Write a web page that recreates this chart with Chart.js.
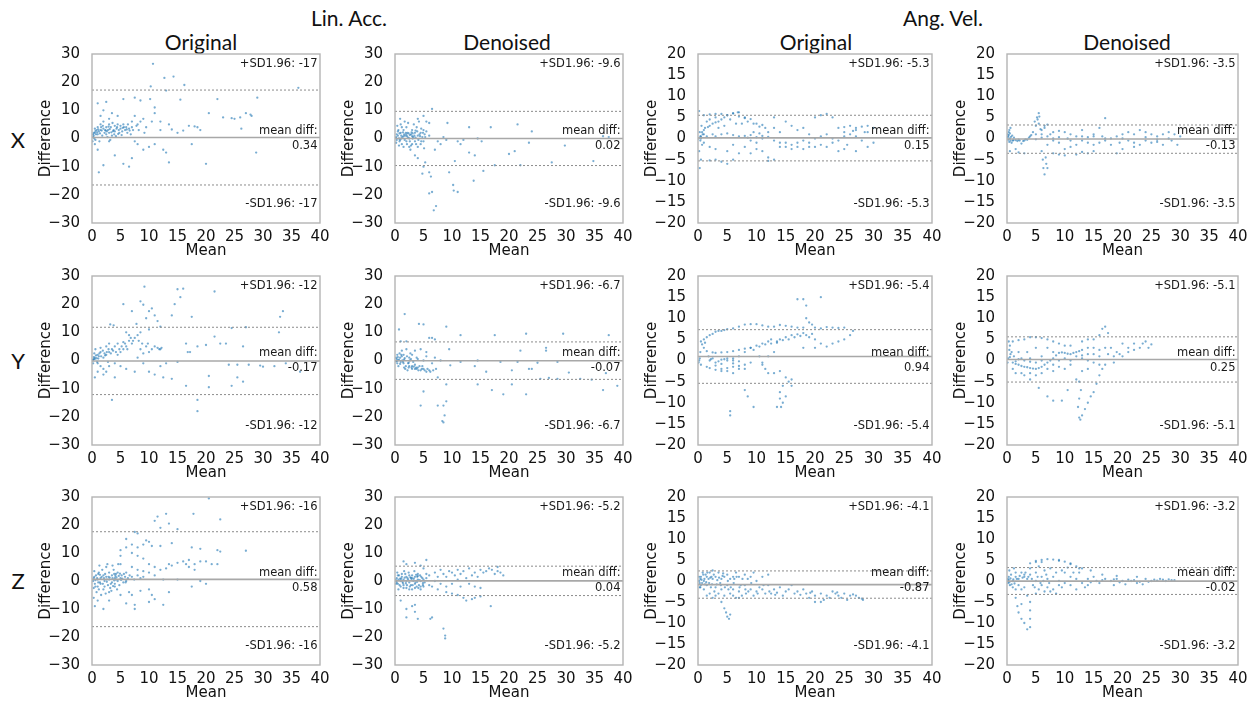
<!DOCTYPE html>
<html>
<head>
<meta charset="utf-8">
<script src="https://cdn.jsdelivr.net/npm/chart.js@4.4.1/dist/chart.umd.min.js"></script>
<style>
  body { margin: 0; background: #fff; width: 1260px; height: 706px; position: relative; overflow: hidden; }
  .lbl { position: absolute; transform: translate(-50%, -50%); white-space: nowrap; color: #111; font-family: Lato, "Open Sans", sans-serif; }
  canvas { position: absolute; }
</style>
</head>
<body>
<script>
// ---- labels ----
const groupNames = ['Lin. Acc.', 'Ang. Vel.'];
const colNames = ['Original', 'Denoised', 'Original', 'Denoised'];
const rowNames = ['X', 'Y', 'Z'];

// ---- axes ----
const xMin = 0, xMax = 40, xStep = 5;
const linRange = [-30, 30, 10];
const angRange = [-20, 20, 5];

// ---- limits of agreement, per row (X, Y, Z) and column ----
const meanDiffs = [[0.34, 0.02, 0.15, -0.13], [-0.17, -0.07, 0.94, 0.25], [0.58, 0.04, -0.87, -0.02]];
const upperLoA  = [[17.2, 9.64, 5.5, 3.2], [11.8, 6.6, 7.3, 5.6], [17.6, 5.3, 2.4, 3.2]];
const lowerLoA  = [[-16.5, -9.6, -5.3, -3.5], [-12.1, -6.7, -5.4, -5.1], [-16.3, -5.2, -4.1, -3.2]];
const sdLabels  = [['-17', '-9.6', '-5.3', '-3.5'], ['-12', '-6.7', '-5.4', '-5.1'], ['-16', '-5.2', '-4.1', '-3.2']];

// ---- points [mean, difference] ----
const laXOrig = [[10.7,26.5],[12.7,21.5],[14.3,22],[16.2,19],[10.3,18.5],[36.2,18],[13,17],[5.5,14],[7.5,14.5],[8.5,13.5],[10.2,14],[11,11],[15.5,13.8],[22,14],[29,14.5],[20.5,9],[23,7.5],[24.5,7.2],[25,7],[26,7.5],[27,9],[28,8],[27.8,8.5],[26.2,3.5],[17,4.5],[18,4.3],[18.5,4],[19,3],[13.5,5],[12,3],[14,3.2],[16,2.8],[15,2],[11,-2],[13,-5],[13.5,-8.5],[20,-9],[28.8,-5],[17.5,-2],[10,-3],[12.5,-4],[7,-7],[6.5,-10],[5.5,-9],[4,-6],[2,-9.5],[1.2,-12],[0.5,-2],[1,-4],[3,-1],[8,-2],[9,-4],[7.5,-1],
  [0.2,0.5],[0.3,1],[0.5,2],[0.6,-0.5],[0.8,3],[1,1.5],[1,4],[1.2,2.5],[1.5,3],[1.5,5],[1.8,1],[2,3.5],[2,6],[2.2,2],[2.5,4],[2.5,1.5],[2.8,3],[3,5],[3,2],[3.3,4],[3.5,1],[3.8,3],[4,4.5],[4,2.5],[4.3,3.5],[4.5,5],[4.8,2],[5,3.5],[5,4.5],[5.5,5],[5.8,3],[6,4],[6.2,2],[6.5,3.5],[7,4],[7,6],[7.5,8],[8,5],[8.5,6],[9,7],[9.5,4],[10.5,6],[11,9],[12,6],[1.5,8],[2,10],[1,12.5],[2.5,13],[3.5,9],[4.5,8],[3,7],[0.1,-1],[0.4,0],[0.7,1.5],[1.3,-1],[2.7,0.5],[3.2,-0.5],[4.2,0.8],[5.2,1.2],[6.8,1.5],[8.2,3],[9.2,2],
  [0.3,2],[0.5,3.5],[0.9,2.2],[1.1,3.2],[1.4,1.8],[1.7,2.8],[1.9,4.5],[2.3,3],[2.6,2.5],[2.9,4.2],[3.1,3.3],[3.4,2.2],[3.6,5.5],[3.9,1.5],[4.4,4],[4.7,3],[5.3,2.5],[5.6,4],[6.3,5],[6.6,2.8],[7.2,3],[7.8,4.5],[0.2,1.5],[0.6,2.6],[1.6,4],[2.4,2.8],[3.7,2.6],[4.6,1.6],[5.4,3.8],[6.1,3.2]];
const laXDen = [[6.5,10.5],[5,8],[4,7],[5.5,6],[6,5.5],[5.3,-8.5],[5,-10],[6,-12],[6.3,-13.5],[4.8,-12.5],[3.5,-6],[4,-7],[6,-19.5],[6.5,-19],[6.8,-25.5],[7.2,-24],[9.2,5.5],[9.5,-12],[10.2,-16.5],[10.3,-18.5],[10.5,-8],[11,-19],[11,-1],[13,4],[13.8,-15],[13,-5],[14,-6],[15.5,-11.5],[15.2,-1],[16.8,4],[17.5,-9.5],[20,-5.5],[21,-4.5],[21.5,5],[22,-9.5],[23.5,-1.5],[24,2.5],[27.5,-8.5],[29.8,-2.5],[34.8,-8],[36.5,0.8],[37.5,0.5],[8,-2],[7,-4],[7.5,-1],[12,-0.5],[14.5,0],[8.5,0.5],[9,-0.5],[11.5,-2],
  [0.2,0.5],[0.3,-0.5],[0.5,1],[0.6,3],[0.8,-1],[1,2],[1,5],[1.2,-2],[1.3,0.5],[1.5,3],[1.5,-3],[1.8,1],[2,4],[2,-1],[2.2,2],[2.5,0],[2.5,-3],[2.8,1.5],[3,3],[3,-2],[3.2,0.5],[3.5,2],[3.5,-1],[3.8,4],[4,1],[4,-3],[4.2,6],[4.5,2],[4.5,-2],[4.8,0.5],[5,3],[5,-1],[5.2,1.5],[0.4,4.5],[0.7,-2.5],[1.7,6],[2.3,5.5],[2.7,-4],[3.3,5],[0.9,7],[1.1,0],[1.6,1.5],[2.1,0.8],[2.6,1.2],[3.1,1.8],[3.6,0.3],[4.1,-0.5],[4.6,3.5],[5.1,-3.5],[0.1,0.2],[5.5,2.5],[6,1],
  [0.3,1.5],[0.5,2.5],[0.7,0],[0.9,-0.5],[1.1,1],[1.4,2.2],[1.7,-0.5],[1.9,2],[2.1,-2],[2.4,1.8],[2.6,-1],[2.9,2.2],[3.1,0],[3.4,1],[3.7,-2],[3.9,2.5],[4.3,1.5],[4.6,-1],[4.9,2],[5.3,0.5],[0.2,-1.5],[1.2,4],[2,1.5],[2.8,-2.5],[3.6,2.8],[4.4,0.8],[1.5,0.8],[2.3,0.3],[3,0.8],[0.8,1.8]];
const avXOrig = [[0.5,0],[1,1],[2,3],[3,3.8],[4,4.5],[5,5.5],[6,6],[6.8,6.2],[1,5.5],[2,5.7],[3,5.8],[4,5.8],[5,5.5],[6,5.9],[7,6.2],[8,4.8],[9,4.6],[10,3.5],[11,3.2],[11.5,2.5],[10.5,2.8],[9.5,3.5],[8.5,4],[3,0.5],[4,1],[5,1.2],[6,0.8],[7,0.5],[8,0.6],[10,0.3],[12,0.4],
  [1,-1],[2,-2],[3,-2.5],[5,-3],[7,-3.5],[9,-3.5],[10,-2.5],[11,-3],[12,-4.5],[13,-5],[8,-2],[6,-1.5],[14,-1],[15,-2],[16,-1.5],[17,-1],[18,-0.5],[19,-1],[20,0],[21,0.5],[22,1],[20,-2],[18,-2.5],[16,-2.5],[14,-2],[23,-1],[24,-0.5],[25,0.5],[26,1],[27,0.5],[28,-0.5],[29,-2],[27,-3],[25,-2.5],[22,-2],[21,5.5],[20,5],[22,5.8],[23,5],[24,2.5],[25,2.7],[26,3],[27,2.5],[28,2.8],[29,3],[30,2.5],[28.5,1.5],[26.5,1.8],
  [0.3,-7],[0.5,-5],[0.2,-3],[0.2,6.5],[0.6,3],[0.8,1],[1,2],[2,-5.2],[3,-5],[4,-5.5],[5,-6],[6,-5],[12,-5.3],[13,5],[15,4],[16,3],[17,2],[18,2.5],[19,1],[12,1.5],[13,2.5],[14,1.5],[10,-1],[9,-0.5],[11,0],[30,-1],[25.5,-1.5],[24,-3],[0.4,0.5],[0.1,0],[1.5,0.5],[2.5,1],[3.5,4],[4.5,5],[5.5,4.5],[4.5,3],[3.5,2.5],[6.5,3.5],[7.5,3.5],[7,5.2],[8,5],[9.5,1.5],[10.5,1.2],[0.3,1.5],[0.7,-1.5],
  [0.5,0.5],[0.7,1.5],[1.2,2.5],[1.7,2.7],[2.5,3.5],[1.5,4],[2,4.5],[3,5],[0.4,-0.5],[8.5,0.2],[9,0.8],[11,0.6],[13,-0.5],[15,-1],[17,-2],[19,-2],[21,-1.5],[23,0],[25,1.5],[27,2],[29,1.5]];
const avXDen = [[4,0.5],[4.5,1.5],[5,3],[5.3,4.5],[5.5,6],[5.2,5],[4.8,4],[5.6,5.2],[5,1],[6,2],[6.5,3],[7,3.3],[6,-3],[6.2,-5],[6.3,-7],[6.5,-8.5],[6.8,-6],[7,-7],[6.7,-4.5],
  [1,-0.5],[2,-0.3],[3,-0.5],[2,-3.3],[3,-3.5],[1.5,-2.5],[8,-3.5],[9,-3.8],[10,-4],[12,-3.8],[14,-3.5],[8,1.5],[9,1.8],[10,1.5],[11,1],[12,0.5],[13,-0.5],[14,-1],[15,-1.5],[16,-1],[17,-0.5],[18,0],[19,0.5],[20,0],[21,-0.5],[22,1],[23,2],[24,1.5],[25,1],[26,0.5],[27,1],[28,1.5],[29,1],[30,0.5],[26,-0.8],[25,-1],[24,-0.5],[23,-1.5],[22,-2],[20,-2.5],[18,-1.5],[17,4.8],[16,2.5],[15,1],[13,2],[12,-1.5],[11,-2],[10,-2.5],[9,-1],[8,-0.5],[7,-1.5],[7.5,1],[6,1],[27,-1.5],[28.5,-0.5],[29.5,-1.5],[19,-3.5],[21,1.5],[15,-3],[13,-3.2],
  [0.2,0.5],[0.3,1.5],[0.4,-0.8],[0.5,0],[0.6,2.5],[0.8,-1],[0.1,1],[1.2,0.2],[1.8,-0.6],[2.5,-1.2],[3.2,-0.2],[0.5,-3],[10.5,0],[19.5,-1],[14,0.3],[16.5,0.5],[5.5,3.5],[5.8,2.2],[6.5,2.5],
  [0.1,0.3],[0.2,-0.3],[0.3,0.8],[0.4,2],[0.5,1.2],[0.6,-0.5],[0.7,0.4],[0.9,0.7],[1.1,-0.4],[1.5,-0.4],[2.2,-0.5],[2.8,-0.6],[3.5,-0.3],[3.8,0.2],[4.2,0.8],[5,-0.2],[6,0.2],[7,0.5],[8,0],[9,0.3],[11,-0.5],[13,0.5],[15,0.5],[17,0],[20,1],[22,-1],[24,0.3],[26,-0.3],[28,0]];
const laYOrig = [[9.2,26.2],[15,25.3],[16,25.5],[21.5,24.5],[15.5,22.5],[5.5,20],[9,19.8],[8.5,21],[10,17.5],[10.5,18.5],[11,16],[7,17.5],[14.5,20],[14,16],[11.5,14],[9.5,15],[10,11],[3.2,12.8],[3.8,12.5],[7.8,13],[12,12],[33,15.5],[33.5,17.5],[32.8,10],[24.5,11.5],[27,11.8],[17.5,15.5],[16.5,6],[16.8,3],[17.2,3],[18.5,5],[20,5.5],[21.5,8.5],[22.5,6],[23.5,6],[26.5,5],[24,-1.5],[25.5,-1.5],[27.5,-1.5],[29.5,-1.8],[30,-2.2],[32,-2],[34,-1],[36.5,-4],[20.5,-5.5],[20.5,-9.5],[24.5,-9],[26.5,-7.5],[25.5,-6],[18.5,-14],[18.5,-18],[16.5,-9],[14,-6.5],[12.5,-6],[11,-5],[10,-4],[12,-2],[13,-1],[15,-0.5],
  [11,5],[12,4],[11.5,4.5],[10,3],[9,2.5],[8,9],[7.5,8],[7,6],[6.5,7],[6,5],[5.5,4],[5,3],[4.5,2],[4,5],[3.5,4],[3,3],[2.5,2],[2,1],[1.5,3],[1,2],[0.5,1],[0.3,0.5],[0.2,-1],[0.5,-6],[1,-4],[2,-3],[3,-2],[4,-1],[3.5,-14],[4,-6],[7.5,-4],[8.5,4],[9.5,5],[1.5,4.5],[2.5,5],[3,6],[4.5,6],[5.5,6.5],[6,10],[6.5,9],[8.5,10],[9,-1],[5,-2],[6,-3],[0.1,0],[0.8,0.8],[1.2,1.5],[2.2,2.5],[2.8,-0.5],[0.4,2.5],[0.6,4],[2,-5],[8,1],
  [0.2,0.3],[0.3,1.2],[0.5,0.5],[0.7,1.8],[0.9,-0.5],[1.1,0.7],[1.3,2.5],[1.6,1.5],[1.9,3.5],[2.3,1.8],[2.6,3],[2.9,4],[3.3,2.5],[3.7,3.5],[4.2,3],[4.8,4],[5.2,5],[5.8,6],[6.2,4],[6.8,8],[7.2,7],[8.2,7],[8.8,6],[9.8,6],[10.5,4],[11.8,4],[12.2,4.5],[1,-1],[1.5,-2],[2.5,-4]];
const laYDen = [[1.7,16.5],[4.2,13],[5,12.8],[0.7,11],[9,12],[11.5,9],[17.5,9],[23,9.5],[29.5,9.5],[37.5,9],[1,6.8],[2,6.8],[6,8],[6.5,8],[7,7.5],[5.5,3],[3.5,3.5],[2,4],[4.5,4],[9.5,4],[22,3.5],[26.5,4.5],[26.5,3.5],[14.5,0],[11.5,-0.5],[9.7,-1.7],[14,-2],[18.5,-0.5],[21.5,-0.5],[25,-0.8],[28.5,-0.5],[23.5,-3],[16,-4],[20.5,-3.5],[24,-3],[27,-6.2],[28.5,-6.5],[30.5,-4.3],[32.5,-6.5],[34.5,-6.8],[37,-4.5],[39,-9],[36.5,-10.5],[14.5,-8.5],[20.5,-8.5],[17,-10.5],[19,-12],[23,-12],[25.5,-6.5],[7.5,-6],[9,-8.5],[5,-11],[4.5,-16],[9,-14.5],[7.5,-16],[8.5,-16],[8.7,-19.5],[8.5,-22],[8.3,-21.5],
  [3,-3],[4,-2.5],[4.5,-3.5],[5,-3],[5.5,-4],[6,-3.5],[3.5,-1.5],[2.5,-2],[1.5,-1],[1,-0.5],[0.5,0],[0.3,0.5],[0.2,1],[1.2,1.5],[1.5,2],[2.5,1],[3,2],[1.8,-3],[2.2,-3.5],[0.8,2.5],[1.3,0],[2.8,0.5],[0.6,-2],[4,0.5],[5,0],[6.5,-1],[7,1],[8,0],[5.5,1.5],[0.4,-1],[0.9,1],[1.6,0.3],[2.4,-0.8],[3.3,-2.2],[3.8,-3],[4.8,-2],[0.2,-0.3],
  [0.3,-0.2],[0.5,1.2],[0.7,0.3],[0.9,-1.2],[1.1,2],[1.4,-0.5],[1.7,0.8],[1.9,-2],[2.1,1.5],[2.3,-1],[2.6,0],[2.9,-2.5],[3.2,-0.5],[3.5,-3],[3.7,-2.5],[4.1,-3.5],[4.3,-2],[4.7,-3],[5.2,-3.5],[5.7,-3],[6.2,-4],[6.7,-3.5],[7.2,-3],[3.8,1],[1.2,3.5],[2.7,2.5],[0.4,2],[1.6,-2.5],[2.4,-2.5],[3,-2]];
const avYOrig = [[1,5],[2,6],[3,6.8],[5,7.4],[8,8.5],[10,8.6],[12,8],[15,8.2],[17,7.8],[20,7.8],[23,7.8],[25,7.8],[26.5,7],[26,6],[25,5],[24,4.5],[22,3.3],[20,3],[18,3],[1,3],[1.5,2.2],[3,1.8],[5,2],[7,2.5],[9,3],[10,3.5],
  [5,0],[7,1],[8,2],[9,3],[11,4],[12,4.5],[14,5],[15,5.5],[16,6],[18,6.5],[19,5.5],[20,5],[0.5,-1],[2,-1.8],[4,-2],[6,-1.5],[8,-1],[3,-0.5],[5,0.5],[7,-0.2],[4,-2.5],[6,-3],[8,-2],
  [17,14.5],[18,14.5],[18.5,13],[19,9],[19.5,8.5],[21,15],[18.5,10],[11,-1],[11.5,-2],[12,-3],[13,-3],[14,-2.5],[15,-4],[15.5,-5],[16,-6],[14.5,-6],[14,-7.5],[14,-9],[14.5,-10],[14.2,-11],[13.5,-11],[15,-8.5],[16,-4.5],[8,-7],[8.5,-8.5],[9.5,-11],[5.5,-12],[5.5,-13],[11,-0.5],[10.5,1],[12,1],[13,2],
  [0.2,0],[0.3,0.5],[0.1,-0.5],[0.5,4.5],[4,7],[6,7.6],[7,8],[9,8.6],[11,8.3],[13,8],[14,8.4],[16,8],[18,7.8],[21,7.6],[22,7.9],[24,7.7],[2.5,1.9],[4,1.9],[6,2.2],[8,2.8],[12.5,5],[13.5,4.5],[17,6.2],[21,4],[23,4],[1.5,-1.5],[3,-2.2],[5,-2.5],[7,-2],[2.5,0.5],[4,0.2],[6,0],
  [0.7,3.8],[0.4,2],[1.2,4.2],[1.5,5.5],[2.5,6.3],[3.5,7],[4.5,7.2],[1.8,1],[2.2,0.3],[3.5,-0.2],[4.5,0.3],[6,0.5],[9.5,2.5],[10.5,3.3],[11.5,3.8],[12.5,4],[13.5,4.2],[14.5,4.8],[15.5,5],[16.5,5.5],[17.5,5.8],[18.5,6],[19.5,6.3],[3,-1.2],[5,-1.8],[7,-1.3],[9,-0.5],[2,0],[4,-0.8],[6,-0.7]];
const avYDen = [[0.3,4.5],[0.5,3.5],[0.4,2.5],[0.6,1.5],[0.2,0.5],[1,-0.5],[2,-1],[3,-1.5],[4,-1.8],[5,-2],[6,-1.5],[7,-0.5],[8,0.5],[9,1.8],[10,1.8],[11,1.5],[12,2],[13,2.5],[14,3],[15,3],[16,2.5],[1,4.5],[2,4.8],[3,5],[4,5.5],[5,5.5],[6,5.3],[7,5],[8,4.5],[9,4],[10,3.5],
  [12,1],[13,0.5],[14,0],[15,-0.5],[16,-1],[14,-2],[13,-2.5],[12,-4.5],[12.5,-5],[12.8,-7],[12.5,-9],[12.3,-11],[12.5,-13.5],[12.7,-14],[13,-13],[13.5,-11.5],[14,-10],[14.5,-8.5],[15,-7.5],[15.5,-5.5],[16,-3.5],[16.5,-2],[17,-1],[16.5,7.5],[17,8],[17.5,6.5],[16,6],[15,5],[18,3],[19,2],[20,1],[18.5,-0.5],[17.5,1.5],[20,4],[22,4],[23,3],[24,4.5],[25,3.8],[21,2],
  [3,-3.5],[4,-4.5],[5.5,-6.5],[7,-8.5],[8,-9.5],[9.5,-9.5],[10.5,-7],[2.5,-3],[1,-2],[1.5,-3],[6,-3],[8,-2.5],[10,-2],[11,-1],[9,-1.5],[4,0.5],[6,1],[3.5,2],[2,2],[5,3],[7,3],[8,2],[11,3.5],[13,4.5],[14,5],[0.1,-0.5],[1.2,1],[2.5,0.5],[1.5,-0.8],[2.5,-1.3],[3.5,-1.6],[4.5,-1.9],[5.5,-1.8],[6.5,-1],[7.5,0],[8.5,1.2],[9.5,1.9],[10.5,1.6],[11.5,1.8],[12.5,2.2],
  [0.5,0.8],[0.8,2],[1.5,-0.2],[2,0.3],[3,0],[4,-0.3],[5,-0.5],[6,0],[18.5,1],[19.5,1.5],[21,3],[22,2.5],[23.5,4],[24.5,3],[17,3],[16,1],[15,1.5],[14,1.5],[13,1.2],[11,0],[10,0.5],[9,0],[8,-1],[7,-2],[5,-3.5],[4,-3]];
const laZOrig = [[20.5,29.5],[13,24],[17.8,24],[11.5,23],[11,21.5],[12,19],[13.5,20.5],[15,18.5],[22.5,22],[8,17],[7.5,17.5],[9.5,14.5],[10,14],[6,15],[7,13],[8,12],[9,13],[10.5,12.5],[12,12.5],[14,13.5],[17.5,12],[19,11.5],[22,11],[22.5,10.5],[27,10.8],[6,12],[5,11],[5,9],[7,10],[8,9],[9,8],[10,6],[11,5],[12,4],[13,4.5],[14,5.5],[15,6.5],[16,7],[17,7.5],[18,6],[19,7],[20,7],[21,6],[22,6],[17,5],[16.5,6],[18,4],[13.5,6],[11,2],[10,3],[9,3.5],[8,4],[7,5],[6,3],[5,6],[12.5,0.5],[15,0.5],[19,0],[20,-1],[17.5,-2],[13.5,-4],[12.5,-8.5],[11,-6.5],[10.5,-5],[10,-7.5],[10,-3],[8.5,-3.5],[7.5,-10],[7,-5],[6.5,-4],[5,-5],[4,-2],[3,-4],[2,-10],[1,-7],[0.5,-9],[0.3,-6],[3,-7],[6,-8],[7.5,-8.5],
  [0.2,0],[0.3,1],[0.5,-1],[0.7,2],[1,0.5],[1,-2],[1.2,3],[1.5,1],[1.5,-1],[1.8,4],[2,2],[2,-3],[2.2,0],[2.5,1.5],[2.5,5],[2.8,-1.5],[3,3],[3,0.5],[3.2,-2.5],[3.5,2],[3.5,-0.5],[3.8,4],[4,1],[4,-1],[4.2,2.5],[4.5,0],[4.5,3],[4.8,-1.5],[5,1],[5.2,2],[5.5,-0.5],[5.8,1.5],[6,0],[0.8,-4],[1.6,-5],[2.4,-4.5],[3.4,-3.5],[4.4,-3],[0.4,3.5],[1.3,5.5],[2.7,6],[3.6,5.5],[4.6,6],[1.1,-0.5],[2.1,1],[3.1,1.2],[4.1,1.8],[5.1,0.4],[0.6,0.3],[1.4,2.2],[2.6,-0.3],[3.9,0.2],[4.9,2.6],
  [0.4,1.5],[0.6,-2],[0.9,1],[1.1,2.5],[1.4,-0.5],[1.7,1.5],[1.9,-1],[2.3,2.5],[2.6,0.5],[2.9,1.5],[3.3,-1],[3.6,1],[3.9,2.5],[4.2,0.5],[4.3,1.3],[4.7,1.8],[5.3,0.8],[5.6,2.5],[5.9,-0.5],[6.3,1],[6.6,2],[7,1.5],[7.4,0.5],[8,2],[8.5,1],[9,1.5],[0.3,-2.5],[1.2,-3],[2.2,-2],[3.7,-1.8]];
const laZDen = [[8.5,-17],[8.8,-20.5],[8.8,-19.5],[6.5,-13],[6.2,-13.5],[4,-13.5],[2,-13],[2,-10],[3.5,-11],[3,-9],[3.5,-8.5],[1,-7],[16.8,-9],[12.5,-7],[14,-6],[13.5,-6.5],[12,-6],[11,-5],[10,-4.5],[15,-5.5],[9,-4],[1.5,7],[3.5,6.5],[5.5,7.5],[2,6],[4.5,5.5],[5,4.5],
  [6,2],[7,3],[8,4],[9,1.5],[10,3],[11,4],[12,3.5],[13,4.5],[14,3],[15,4],[16,3.5],[17,4],[18,5],[18.5,3],[19,2],[17.5,2.5],[16.5,4.5],[14.5,1.5],[12.5,1],[11,0.5],[10,-1],[9,-2],[8,-1],[7,0],[6,-1.5],[13,-1],[14,-2],[15,-2.5],[11.5,-2],[7.5,-3],[5.5,2.5],[6.5,-2],[7.5,1.5],[8.5,2.5],[9.5,3.5],[10.5,2],[11.5,2.5],[13.5,2],[15.5,3],[18,3.5],
  [0.2,0],[0.3,1],[0.5,-1],[0.7,2],[1,0],[1,-2],[1.2,1.5],[1.5,0.5],[1.5,-1.5],[1.8,2.5],[2,0],[2,-2.5],[2.2,1],[2.5,-0.5],[2.5,2],[2.8,-1.5],[3,1],[3,-3],[3.2,0],[3.5,1.5],[3.5,-1],[3.8,-2],[4,0.5],[4,2.5],[4.2,-1.5],[4.5,0],[4.5,-3],[4.8,1],[5,-2],[5,0.5],[0.4,3],[0.6,-3],[1.6,3.5],[2.4,3],[3.4,3.5],[4.4,2],[0.9,0.8],[1.9,-0.8],[2.9,0.3],[3.9,-0.3],[4.9,-0.8],[0.1,0.5],[1.3,-0.3],[2.7,1.3],[3.7,2.2],
  [0.3,-0.5],[0.6,0.5],[0.8,-1.5],[1.1,0.8],[1.4,-0.8],[1.7,1.2],[2.1,-1.5],[2.3,0.5],[2.6,-2],[2.8,1],[3.1,-1.5],[3.3,0.8],[3.6,-0.5],[3.9,1.5],[4.1,-2.5],[4.3,0.3],[4.6,1.5],[4.9,-1.5],[5.2,-0.5],[5.5,1],[0.5,2],[1.2,2.5],[2,1.5],[3,2],[4,1.8],[1.5,-2.5],[2.5,-3],[3.5,-2.5],[4.5,-2],[0.2,-1]];
const avZOrig = [[4,-5],[4.5,-6.5],[5,-8.5],[5.3,-9],[5.5,-8],[4.8,-7.5],
  [0.2,0],[0.5,1],[0.5,-1],[0.8,2],[1,0],[1,-2],[1.5,1],[1.5,-1],[2,2],[2,-3],[2.5,2.5],[2.5,0.5],[3,1],[3,-1.5],[3.5,2],[3.5,-3],[4,0.5],[4,-2],[4.5,1],[4.5,-3.5],[5,1.5],[5,-1],[5.5,0.5],[5.5,-3],[6,1],[6,-2],[6.5,-4],[7,1],[7,-2.5],[7.5,-3.5],[8,1.5],[8,-1],[8.5,0.5],[9,1],[9,-2],[9.5,-3.5],[10,0],[10,-2.5],[11,1],[11,-2],[11.5,-3],[12,-1],[12.5,-3],[13,-2],[14,-1.5],[14.5,-3.5],[15,-2.5],[16,-1],[16.5,-3],[17,-2.5],[18,-2],[18.5,-3],[19,-4],[19.5,-2.5],[20,-3.5],[21,-3],[21.5,-4.5],[22,-3.5],[22.5,-4],[23,-2.5],[23.5,-3],[24,-3.5],[24.5,-4],[25,-3],[25.5,-4.5],[26,-3.5],[27,-3.5],[27.5,-4],[28,-4.2],[28.2,-4.5],[20,-5],[21,-5],[1.5,-3.5],[2.5,-4],[3,-3.5],[6,-3.5],[7,-4],[0.3,-0.5],[0.6,0.3],[1.2,-0.8],[1.8,0.5],[2.2,-1.5],[2.8,-2.5],[3.3,0.2],[12,1.5],[9.5,2],[6.5,2],
  [0.4,-1.5],[1.3,1.5],[2.3,1],[3.8,-0.5],[4.2,1.2],[5.2,-2],[6.2,0.5],[7.3,-1],[8.2,-3],[10.5,-1.5],[13.5,-2.8],[15.5,-2],[17.5,-3.3],[19.2,-2.8],[23.8,-2.7],[26.5,-3.2],
  [0.2,1],[0.3,-1.5],[0.4,0.5],[0.7,-0.5],[0.9,1.5],[1.1,0.5],[1.4,-0.3],[1.6,2],[1.9,-0.5],[2.1,0.8],[2.4,-0.8],[2.7,1.5],[3.2,-0.8],[3.6,0.8],[3.9,-1],[4.3,1.8],[4.6,-1.5],[5.1,0],[5.6,-1.5],[6.1,-0.5],[6.6,1],[7.1,-1.5],[7.6,0.5],[8.1,-2],[8.6,-2.5],[9.1,-0.5],[10.2,-3],[11.2,-1],[12.2,-2.5],[13.2,-3.3]];
const avZDen = [[4,4.2],[5,4.8],[6,5],[7,5.2],[8,5.1],[9,5],[10,4.6],[11,4],[12,3.5],[13,3],[3,1.5],[4,3],[5,4.5],
  [1.5,-2],[1.5,-4],[1.8,-6],[2,-7.5],[2.5,-9],[3,-10],[3.5,-11.5],[4,-11],[4,-9],[4,-7],[4,-5],[3.5,-3.5],[2.5,-5.5],
  [0.2,0],[0.3,1],[0.5,-1],[0.7,1.5],[1,0],[1,-1.5],[1.5,1],[1.5,2],[2,0.5],[2,-1],[2.5,2],[2.5,-2],[3,1],[3,-1.5],[3.5,0.5],[4,1.5],[4.5,-1],[5,0],[5,2],[5.5,-2],[6,1],[6,-1],[6.5,2.5],[7,-1.5],[7,0.5],[7.5,3],[8,-2],[8,1],[8.5,2],[9,0],[9,-1],[10,2],[10,-0.5],[11,1],[11,-1],[12,0.5],[12.5,2],[13,-0.5],[14,0.5],[14,-1],[15,1],[15.5,0],[16,-0.5],[17,0.5],[18,0],[18.5,-1],[19,0.5],[20,0],[20.5,-0.8],[21,0.3],[22,0.2],[23,-0.2],[24,0.5],[25,0],[25.5,0.3],[26,0.1],[27,0.3],[28,0.4],[29,0.2],[12,-2],[13.5,-1.5],[16.5,1.5],[19,1.2],[22.5,1],[23.5,-0.8],[6.5,-2.5],[7.5,-2.5],[8.5,-3],[9.5,-1.5],[5,-3],[0.4,2.5],[1.2,3],[5.5,3.5],[9.5,2.5],[11.5,2],[10.5,3.2],[12.5,3],[6,4.5],[9,4.8],[14.5,2.5],[11,4.2],
  [0.1,0.5],[0.2,-0.5],[0.3,0.3],[0.4,-0.3],[0.6,0.6],[0.8,-0.8],[1.1,0.4],[1.3,-0.6],[1.7,0.5],[2.2,1.2],[2.7,0.8],[3.2,2],[3.7,1],[4.3,0.5],[4.8,-1.5],[5.3,1],[5.8,-0.5],[6.3,0],[6.8,1.5],[7.3,-0.5],[14.5,-0.3],[16.5,0.2],[18.5,0.4],[19.5,-0.3],[21.5,0],[22.5,-0.5],[24.5,-0.2],[26.5,0.5],[27.5,0],[28.5,0.2]];

const panelPoints = [
  [laXOrig, laXDen, avXOrig, avXDen],
  [laYOrig, laYDen, avYOrig, avYDen],
  [laZOrig, laZDen, avZOrig, avZDen]
];

// ---- layout (plot area edges, px) ----
const plotLeft = [92, 395, 698, 1007];
const plotRight = [320, 623, 932, 1238];
const plotTop = [54, 276, 497];
const plotBottom = [223, 445, 665];
const yAxisW = 55, xAxisH = 37, padTop = 12, padRight = 14;

const tickFont = { family: "'DejaVu Sans', sans-serif", size: 15, lineHeight: 1 };
const titleFont = { family: "'DejaVu Sans', sans-serif", size: 15 };

function addLabel(text, x, y, size) {
  const d = document.createElement('div');
  d.className = 'lbl';
  d.style.left = x + 'px';
  d.style.top = y + 'px';
  d.style.fontSize = size + 'px';
  d.textContent = text;
  document.body.appendChild(d);
}

// frame + text notes of each panel
const panelDecor = {
  id: 'panelDecor',
  afterDraw(chart, args, opts) {
    const { ctx, chartArea: a } = chart;
    ctx.save();
    ctx.strokeStyle = '#b4b4b4';
    ctx.lineWidth = 1.4;
    ctx.strokeRect(a.left, a.top, a.right - a.left, a.bottom - a.top);
    ctx.fillStyle = '#1a1a1a';
    ctx.font = "11.5px 'DejaVu Sans', sans-serif";
    ctx.textAlign = 'right';
    ctx.textBaseline = 'middle';
    const x = a.right - 2.5, mid = (a.top + a.bottom) / 2;
    ctx.fillText('+SD1.96: ' + opts.sd, x, a.top + 10);
    ctx.fillText('mean diff:', x, mid - 7.5);
    ctx.fillText(opts.md, x, mid + 7.5);
    ctx.fillText('-SD1.96: ' + opts.sd, x, a.bottom - 19);
    ctx.restore();
  }
};

function hLine(y, color, width, dash) {
  return {
    type: 'line',
    data: [{ x: xMin, y: y }, { x: xMax, y: y }],
    borderColor: color,
    borderWidth: width,
    borderDash: dash,
    pointRadius: 0,
    order: 1
  };
}

function makePanel(r, c) {
  const L = plotLeft[c], R = plotRight[c], T = plotTop[r], B = plotBottom[r];
  const w = R - L + yAxisW + padRight, h = B - T + padTop + xAxisH;
  const cv = document.createElement('canvas');
  cv.width = w; cv.height = h;
  cv.style.left = (L - yAxisW) + 'px';
  cv.style.top = (T - padTop) + 'px';
  cv.style.width = w + 'px';
  cv.style.height = h + 'px';
  document.body.appendChild(cv);

  const yr = c < 2 ? linRange : angRange;
  const md = meanDiffs[r][c];

  new Chart(cv, {
    type: 'scatter',
    data: {
      datasets: [
        {
          data: panelPoints[r][c].map(p => ({ x: p[0], y: p[1] })),
          backgroundColor: 'rgba(31,119,180,0.6)',
          pointRadius: 1.15,
          borderWidth: 0,
          order: 2
        },
        hLine(md, '#a8a8a8', 1.6, []),
        hLine(upperLoA[r][c], '#8c8c8c', 1, [2, 2]),
        hLine(lowerLoA[r][c], '#8c8c8c', 1, [2, 2])
      ]
    },
    options: {
      responsive: false,
      animation: false,
      events: [],
      layout: { padding: { top: padTop, right: padRight, left: 0, bottom: 0 } },
      plugins: {
        legend: { display: false },
        tooltip: { enabled: false },
        panelDecor: { sd: sdLabels[r][c], md: md.toFixed(2) }
      },
      scales: {
        x: {
          type: 'linear', min: xMin, max: xMax,
          grid: { display: false }, border: { display: false },
          ticks: { stepSize: xStep, autoSkip: false, maxRotation: 0, font: tickFont, color: '#111', padding: -1 },
          title: { display: true, text: 'Mean', font: titleFont, color: '#111', padding: 0 },
          afterFit(s) { s.height = xAxisH; }
        },
        y: {
          type: 'linear', min: yr[0], max: yr[1],
          grid: { display: false }, border: { display: false },
          ticks: {
            stepSize: yr[2], autoSkip: false, font: tickFont, color: '#111', padding: 4,
            callback: v => (v < 0 ? '\u2212' + Math.abs(v) : String(v))
          },
          title: { display: true, text: 'Difference', font: titleFont, color: '#111', padding: 0 },
          afterFit(s) { s.width = yAxisW; }
        }
      }
    },
    plugins: [panelDecor]
  });
}

// headings
addLabel(groupNames[0], 349, 17, 21);
addLabel(groupNames[1], 943, 17, 21);
const colCenters = [201, 507, 816, 1127];
colNames.forEach((n, i) => addLabel(n, colCenters[i], 41, 21));
const rowCenters = [139, 360, 580];
rowNames.forEach((n, i) => addLabel(n, 18, rowCenters[i], 22));

for (let r = 0; r < 3; r++) {
  for (let c = 0; c < 4; c++) makePanel(r, c);
}
</script>
</body>
</html>
